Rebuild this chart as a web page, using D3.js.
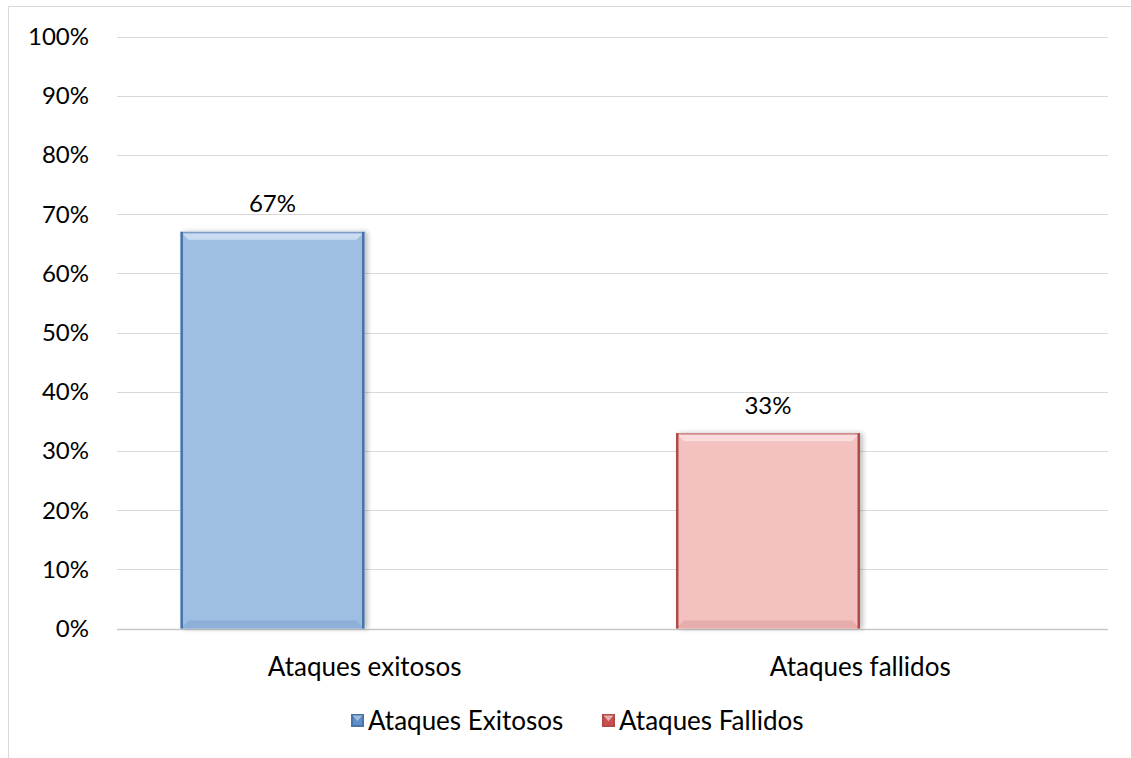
<!DOCTYPE html>
<meta charset="utf-8">
<style>
    body { margin: 0; background: #fff; }
    text { font-family: Lato, "Open Sans", sans-serif; fill: #000; }
</style>
<svg width="1131" height="758"></svg>
<script src="https://cdn.jsdelivr.net/npm/d3@7"></script>
<script>
    // data
    var categories = ["Ataques exitosos", "Ataques fallidos"];
    var values = [0.67, 0.33];
    var seriesNames = ["Ataques Exitosos", "Ataques Fallidos"];
    var tickValues = [0, 0.1, 0.2, 0.3, 0.4, 0.5, 0.6, 0.7, 0.8, 0.9, 1.0];

    var colors = [
        { fill: "#9fbee3", light: "#c9dcf2", dark: "#4a73a9", bottom: "#8dafd8" },
        { fill: "#f2c1c0", light: "#f9dcdb", dark: "#b24a48", bottom: "#e6adac" }
    ];

    var svg = d3.select("svg");

    // outer chart border
    svg.append("path")
        .attr("d", "M8.5,758 V6.5 H1131")
        .attr("fill", "none")
        .attr("stroke", "#d9d9d9");

    var y = d3.scaleLinear().domain([0, 1]).range([628.5, 36.5]);
    var x = d3.scaleBand().domain(categories).range([117, 1108]);
    var barW = 184, barOff = 63.5;

    // gridlines
    svg.append("g")
        .selectAll("line")
        .data(tickValues)
        .enter().append("line")
        .attr("x1", 117).attr("x2", 1108)
        .attr("y1", function (d) { return Math.round(y(d)) + 0.5; })
        .attr("y2", function (d) { return Math.round(y(d)) + 0.5; })
        .attr("stroke", function (d) { return d === 0 ? "#c8c8c8" : "#d9d9d9"; })
        .attr("stroke-width", function (d) { return d === 0 ? 1.5 : 1; });

    // y tick labels
    svg.append("g")
        .selectAll("text")
        .data(tickValues)
        .enter().append("text")
        .attr("x", 89)
        .attr("y", function (d) { return y(d); })
        .attr("dy", "0.35em")
        .attr("text-anchor", "end")
        .attr("font-size", 24)
        .text(d3.format(".0%"));

    var defs = svg.append("defs");
    var f = defs.append("filter").attr("id", "shadow").attr("x", "-10%").attr("width", "130%");
    f.append("feGaussianBlur").attr("in", "SourceAlpha").attr("stdDeviation", 2.5);
    f.append("feOffset").attr("dx", 3).attr("dy", 0).attr("result", "b");
    f.append("feComponentTransfer").append("feFuncA").attr("type", "linear").attr("slope", 0.25);
    var m = f.append("feMerge");
    m.append("feMergeNode");
    m.append("feMergeNode").attr("in", "SourceGraphic");

    // bars with a bevel look
    var bars = svg.append("g")
        .selectAll("g")
        .data(categories)
        .enter().append("g")
        .attr("filter", "url(#shadow)");

    bars.each(function (c, i) {
        var g = d3.select(this);
        var x0 = x(c) + barOff, x1 = x0 + barW;
        var top = y(values[i]), bot = y(0);
        var col = colors[i], b = 8;
        g.append("rect")
            .attr("x", x0).attr("y", top)
            .attr("width", barW).attr("height", bot - top)
            .attr("fill", col.fill);
        // top bevel
        g.append("path")
            .attr("d", "M" + x0 + "," + top + "H" + x1 + "L" + (x1 - b) + "," + (top + b) + "H" + (x0 + b) + "Z")
            .attr("fill", col.light);
        // bottom bevel
        g.append("path")
            .attr("d", "M" + x0 + "," + bot + "H" + x1 + "L" + (x1 - b) + "," + (bot - b) + "H" + (x0 + b) + "Z")
            .attr("fill", col.bottom);
        // side edges
        g.append("rect").attr("x", x0).attr("y", top).attr("width", 2.5).attr("height", bot - top).attr("fill", col.dark);
        g.append("rect").attr("x", x1 - 2.5).attr("y", top).attr("width", 2.5).attr("height", bot - top).attr("fill", col.dark);
        g.append("rect").attr("x", x0).attr("y", top).attr("width", barW).attr("height", 1.5).attr("fill", col.dark).attr("opacity", 0.6);
    });

    // value labels
    svg.append("g")
        .selectAll("text")
        .data(categories)
        .enter().append("text")
        .attr("x", function (d) { return x(d) + barOff + barW / 2; })
        .attr("y", function (d, i) { return y(values[i]) - 28; })
        .attr("dy", "0.35em")
        .attr("text-anchor", "middle")
        .attr("font-size", 24)
        .text(function (d, i) { return d3.format(".0%")(values[i]); });

    // category labels
    svg.append("g")
        .selectAll("text")
        .data(categories)
        .enter().append("text")
        .attr("x", function (d) { return x(d) + x.bandwidth() / 2; })
        .attr("y", 667)
        .attr("dy", "0.35em")
        .attr("text-anchor", "middle")
        .attr("font-size", 26)
        .text(function (d) { return d; });

    // legend
    var legendX = [351, 602];
    var legend = svg.append("g")
        .selectAll("g")
        .data(seriesNames)
        .enter().append("g")
        .attr("transform", function (d, i) { return "translate(" + legendX[i] + ",714)"; });

    legend.each(function (d, i) {
        var g = d3.select(this), col = colors[i], s = 13;
        g.append("rect").attr("width", s).attr("height", s).attr("fill", col.dark);
        g.append("path").attr("d", "M1.5,1.5H" + (s - 1.5) + "L" + s / 2 + "," + (s / 2 + 1) + "Z").attr("fill", col.light).attr("opacity", 0.7);
        g.append("path").attr("d", "M2,3L" + s / 2 + "," + (s / 2 + 1) + "L" + (s - 2) + ",3V" + (s - 2) + "H2Z").attr("fill", i === 0 ? "#5f8fcb" : "#c9504e");
    });

    legend.append("text")
        .attr("x", 17)
        .attr("y", 6.5)
        .attr("dy", "0.35em")
        .attr("font-size", 26)
        .text(function (d) { return d; });
</script>
